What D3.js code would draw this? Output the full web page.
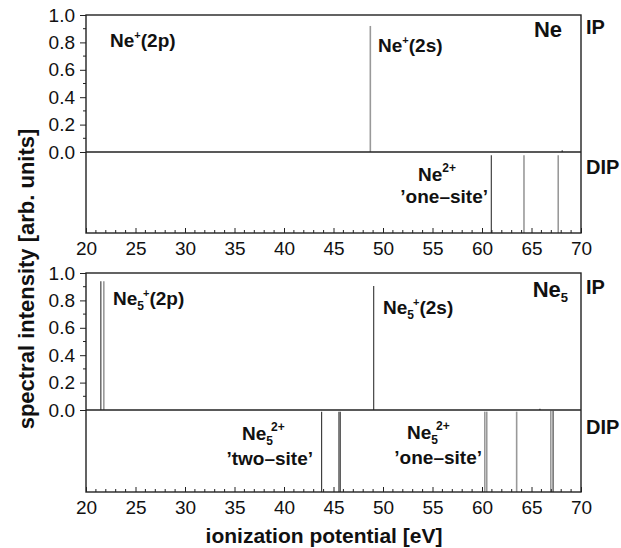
<!DOCTYPE html>
<html>
<head>
<meta charset="utf-8">
<script src="https://cdn.jsdelivr.net/npm/d3@7"></script>
<style>
  body { margin: 0; background: #fff; }
  text { font-family: "Liberation Sans", Arial, sans-serif; fill: #111; }
</style>
</head>
<body>
<script>
// line positions [eV] and intensities, tone 0 = dark, 1 = grey
const xTicks = [20, 25, 30, 35, 40, 45, 50, 55, 60, 65, 70];
const yTicks = [0, 0.2, 0.4, 0.6, 0.8, 1.0];

const neIP = [
  {e: 48.72, h: 0.92, tone: 1},
  {e: 68.1, h: 0.012, tone: 0}
];
const neDIP = [
  {e: 60.94, h: 0.96, tone: 0},
  {e: 64.24, h: 0.96, tone: 1},
  {e: 67.70, h: 0.96, tone: 1}
];
const ne5IP = [
  {e: 21.50, h: 0.94, tone: 0},
  {e: 21.80, h: 0.94, tone: 1},
  {e: 49.06, h: 0.905, tone: 0},
  {e: 65.85, h: 0.01, tone: 0}
];
const ne5DIP = [
  {e: 43.80, h: 0.98, tone: 0},
  {e: 45.55, h: 0.98, tone: 0},
  {e: 45.68, h: 0.98, tone: 0},
  {e: 60.28, h: 0.98, tone: 1},
  {e: 60.48, h: 0.98, tone: 1},
  {e: 63.50, h: 0.98, tone: 1},
  {e: 66.95, h: 0.99, tone: 1},
  {e: 67.18, h: 0.99, tone: 0}
];

const W = 621, H = 548;
const left = 86, right = 581;

const svg = d3.select("body").append("svg")
    .attr("width", W)
    .attr("height", H);

const x = d3.scaleLinear().domain([20, 70]).range([left, right]);
const tone = d3.scaleOrdinal().domain([0, 1]).range(["#333", "#999"]);
const toneW = d3.scaleOrdinal().domain([0, 1]).range([1.1, 1.6]);

const drawPanel = (top, zero, bottom, ip, dip, ipY, dipY) => {
  const g = svg.append("g");
  const y = d3.scaleLinear().domain([0, 1]).range([zero, top]);
  const yd = d3.scaleLinear().domain([0, 1]).range([bottom, zero]);

  // spectral lines
  g.selectAll(".ip").data(ip).enter().append("line")
      .attr("class", "ip")
      .attr("x1", d => x(d.e)).attr("x2", d => x(d.e))
      .attr("y1", y(0)).attr("y2", d => y(d.h))
      .attr("stroke", d => tone(d.tone))
      .attr("stroke-width", d => toneW(d.tone));

  g.selectAll(".dip").data(dip).enter().append("line")
      .attr("class", "dip")
      .attr("x1", d => x(d.e)).attr("x2", d => x(d.e))
      .attr("y1", yd(0)).attr("y2", d => yd(d.h))
      .attr("stroke", d => tone(d.tone))
      .attr("stroke-width", d => toneW(d.tone));

  // frame + zero line
  g.append("rect")
      .attr("x", left).attr("y", top)
      .attr("width", right - left).attr("height", bottom - top)
      .attr("fill", "none").attr("stroke", "#222").attr("stroke-width", 1.4);
  g.append("line")
      .attr("x1", left).attr("x2", right)
      .attr("y1", y(0)).attr("y2", y(0))
      .attr("stroke", "#222").attr("stroke-width", 1.4);

  // y axis (0..1 only)
  const ya = g.append("g").attr("transform", `translate(${left},0)`)
      .call(d3.axisLeft(y).tickValues(yTicks).tickFormat(d3.format(".1f"))
        .tickSizeInner(6).tickSizeOuter(0).tickPadding(5));
  ya.append("g").selectAll("line")
      .data(d3.range(0.1, 1, 0.2)).enter().append("line")
      .attr("x1", -3).attr("x2", 0)
      .attr("y1", d => y(d)).attr("y2", d => y(d))
      .attr("stroke", "#222");

  // x axis, ticks pointing inward
  const xa = g.append("g").attr("transform", `translate(0,${bottom})`)
      .call(d3.axisBottom(x).tickValues(xTicks)
        .tickSizeInner(-5).tickSizeOuter(0).tickPadding(9));
  xa.append("g").selectAll("line")
      .data(d3.range(21, 70, 1).filter(v => v % 5 !== 0)).enter().append("line")
      .attr("x1", d => x(d)).attr("x2", d => x(d))
      .attr("y1", -3).attr("y2", 0)
      .attr("stroke", "#222");

  [ya, xa].forEach(a => {
    a.select(".domain").remove();
    a.selectAll(".tick line").attr("stroke", "#222");
    a.selectAll("text").attr("font-size", 19).attr("fill", "#111")
      .attr("font-family", "Liberation Sans, Arial, sans-serif");
  });

  g.append("text").attr("x", right + 5).attr("y", ipY)
      .attr("font-size", 20).attr("font-weight", "bold").text("IP");
  g.append("text").attr("x", right + 5).attr("y", dipY)
      .attr("font-size", 20).attr("font-weight", "bold").text("DIP");

  return {g, y, yd};
};

const addLabel = (g, px, py, parts, size, anchor) => {
  const t = g.append("text")
      .attr("x", px).attr("y", py)
      .attr("font-size", size).attr("font-weight", "bold")
      .attr("text-anchor", anchor || "start");
  parts.forEach(p => {
    const s = t.append("tspan").text(p.t);
    if (p.dy) s.attr("dy", p.dy);
    if (p.dx) s.attr("dx", p.dx);
    if (p.fs) s.attr("font-size", p.fs);
  });
  return t;
};

// top panel: Ne atom
const p1 = drawPanel(15, 152, 233, neIP, neDIP, 34, 174);
addLabel(p1.g, 110, 47, [{t: "Ne"}, {t: "+", dy: -8, fs: 11}, {t: "(2p)", dy: 8}], 19);
addLabel(p1.g, 378, 52, [{t: "Ne"}, {t: "+", dy: -8, fs: 11}, {t: "(2s)", dy: 8}], 19);
addLabel(p1.g, 562, 37, [{t: "Ne"}], 22, "end");
addLabel(p1.g, 418, 181, [{t: "Ne"}, {t: "2+", dy: -9, fs: 12}], 19);
addLabel(p1.g, 488, 203, [{t: "’one–site’"}], 19, "end");

// bottom panel: Ne5 cluster
const p2 = drawPanel(273, 410, 492, ne5IP, ne5DIP, 294, 434);
addLabel(p2.g, 113, 305, [{t: "Ne"}, {t: "5", dy: 5, fs: 12}, {t: "+", dy: -13, dx: -1, fs: 11}, {t: "(2p)", dy: 8}], 19);
addLabel(p2.g, 383, 314, [{t: "Ne"}, {t: "5", dy: 5, fs: 12}, {t: "+", dy: -13, dx: -1, fs: 11}, {t: "(2s)", dy: 8}], 19);
addLabel(p2.g, 568, 297, [{t: "Ne"}, {t: "5", dy: 5, fs: 13}], 22, "end");
addLabel(p2.g, 242, 440, [{t: "Ne"}, {t: "5", dy: 5, fs: 12}, {t: "2+", dy: -14, dx: -2, fs: 12}], 19);
addLabel(p2.g, 313, 465, [{t: "’two–site’"}], 19, "end");
addLabel(p2.g, 407, 439, [{t: "Ne"}, {t: "5", dy: 5, fs: 12}, {t: "2+", dy: -14, dx: -2, fs: 12}], 19);
addLabel(p2.g, 482, 464, [{t: "’one–site’"}], 19, "end");

// axis titles
svg.append("text")
    .attr("transform", "translate(34,279) rotate(-90)")
    .attr("text-anchor", "middle")
    .attr("font-size", 22).attr("font-weight", "bold")
    .text("spectral intensity [arb. units]");
svg.append("text")
    .attr("x", 324).attr("y", 543)
    .attr("text-anchor", "middle")
    .attr("font-size", 21).attr("font-weight", "bold")
    .text("ionization potential [eV]");
</script>
</body>
</html>
